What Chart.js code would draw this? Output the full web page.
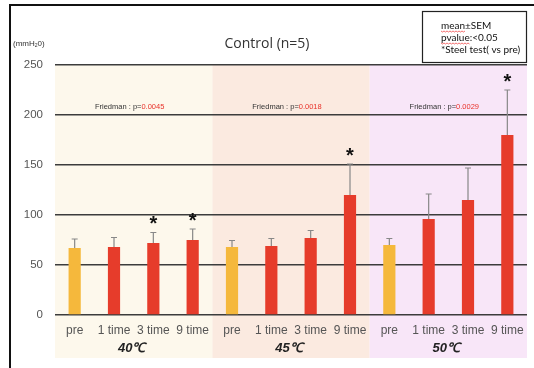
<!DOCTYPE html>
<html>
<head>
<meta charset="utf-8">
<script src="https://cdn.jsdelivr.net/npm/chart.js@4.4.1/dist/chart.umd.min.js"></script>
<style>
  body { margin: 0; background: #fff; }
  #wrap { width: 534px; height: 368px; }
</style>
</head>
<body>
<div id="wrap"><canvas id="myChart" width="534" height="368"></canvas></div>
<script>
// values
const categories = ['pre', '1 time', '3 time', '9 time',
                    'pre', '1 time', '3 time', '9 time',
                    'pre', '1 time', '3 time', '9 time'];
const groups = ['40℃', '45℃', '50℃'];
const groupColors = ['#fdf8ec', '#fbeae0', '#f8e6f8'];
const means = [67, 68, 72, 75, 68, 69, 77, 120, 70, 96, 115, 180];
const sems = [9, 9.5, 10.5, 11, 6.5, 7.5, 7.5, 31, 6.5, 25, 32, 45];
const significant = [false, false, true, true, false, false, false, true, false, false, false, true];
const friedmanP = ['0.0045', '0.0018', '0.0029'];
const legendLines = ['mean±SEM', 'pvalue:<0.05', '*Steel test( vs pre)'];

const barColors = categories.map(c => c === 'pre' ? '#f5b83c' : '#e63c2b');

const decor = {
  id: 'decor',
  beforeDraw(chart) {
    const ctx = chart.ctx;
    const x = chart.scales.x;
    const area = chart.chartArea;
    ctx.save();
    ctx.fillStyle = '#fff';
    ctx.fillRect(0, 0, chart.width, chart.height);
    // group backgrounds
    const half = (x.getPixelForValue(1) - x.getPixelForValue(0)) / 2;
    groups.forEach((g, i) => {
      const x0 = x.getPixelForValue(i * 4) - half;
      const x1 = x.getPixelForValue(i * 4 + 3) + half;
      ctx.fillStyle = groupColors[i];
      ctx.fillRect(x0, area.top, x1 - x0, 358 - area.top);
    });
    // frame
    ctx.strokeStyle = '#111';
    ctx.lineWidth = 2;
    ctx.beginPath();
    ctx.moveTo(10, 368);
    ctx.lineTo(10, 5);
    ctx.lineTo(534, 5);
    ctx.stroke();
    ctx.restore();
  },
  afterDatasetsDraw(chart) {
    const ctx = chart.ctx;
    const x = chart.scales.x;
    const y = chart.scales.y;
    ctx.save();
    // error bars (upper only)
    ctx.strokeStyle = '#888';
    ctx.lineWidth = 1.2;
    means.forEach((m, i) => {
      const px = x.getPixelForValue(i);
      const top = y.getPixelForValue(m + sems[i]);
      ctx.beginPath();
      ctx.moveTo(px, y.getPixelForValue(m));
      ctx.lineTo(px, top);
      ctx.moveTo(px - 3, top);
      ctx.lineTo(px + 3, top);
      ctx.stroke();
      if (significant[i]) {
        ctx.fillStyle = '#111';
        ctx.font = 'bold 20px "Liberation Sans"';
        ctx.textAlign = 'center';
        ctx.textBaseline = 'middle';
        ctx.fillText('*', px, top - 8);
      }
    });
    ctx.restore();
  },
  afterDraw(chart) {
    const ctx = chart.ctx;
    const x = chart.scales.x;
    const half = (x.getPixelForValue(1) - x.getPixelForValue(0)) / 2;
    ctx.save();
    // title and unit
    ctx.fillStyle = '#333';
    ctx.textAlign = 'center';
    ctx.textBaseline = 'middle';
    ctx.font = '14px "Open Sans"';
    ctx.fillText('Control (n=5)', 267, 44);
    ctx.textAlign = 'left';
    ctx.font = '8px "Liberation Sans"';
    ctx.fillText('(mmH', 13, 44);
    let w = ctx.measureText('(mmH').width;
    ctx.font = '5px "Liberation Sans"';
    ctx.fillText('2', 13 + w, 46);
    let w2 = ctx.measureText('2').width;
    ctx.font = '8px "Liberation Sans"';
    ctx.fillText('0)', 13 + w + w2, 44);

    // legend box
    ctx.strokeStyle = '#222';
    ctx.lineWidth = 1.2;
    ctx.strokeRect(422.5, 11.5, 104, 51);
    ctx.fillStyle = '#111';
    ctx.font = '10px Lato';
    legendLines.forEach((t, i) => {
      ctx.fillText(t, 441, 26 + i * 12);
    });
    // spell-check squiggles
    ctx.strokeStyle = '#e33';
    ctx.lineWidth = 0.7;
    [[441, 31, ctx.measureText('mean').width], [441, 43, ctx.measureText('pvalue').width]].forEach(s => {
      ctx.beginPath();
      for (let k = 0; k <= s[2]; k += 1.5) {
        const yy = s[1] + ((k / 1.5) % 2 ? 1 : 0);
        if (k === 0) ctx.moveTo(s[0] + k, yy); else ctx.lineTo(s[0] + k, yy);
      }
      ctx.stroke();
    });

    // Friedman p values and group labels
    groups.forEach((g, i) => {
      const x0 = x.getPixelForValue(i * 4) - half;
      const x1 = x.getPixelForValue(i * 4 + 3) + half;
      const cx = (x0 + x1) / 2 - 4;
      ctx.font = '7.5px "Liberation Sans"';
      const a = 'Friedman : p=';
      const wa = ctx.measureText(a).width;
      const wb = ctx.measureText(friedmanP[i]).width;
      const sx = cx - (wa + wb) / 2;
      ctx.textAlign = 'left';
      ctx.fillStyle = '#333';
      ctx.fillText(a, sx, 107);
      ctx.fillStyle = '#e8322a';
      ctx.fillText(friedmanP[i], sx + wa, 107);

      ctx.textAlign = 'center';
      ctx.fillStyle = '#222';
      ctx.font = 'italic bold 13px "Liberation Sans"';
      ctx.fillText(g, cx + 2, 348);
    });
    ctx.restore();
  }
};

const ctx = document.getElementById('myChart');
new Chart(ctx, {
  type: 'bar',
  data: {
    labels: categories,
    datasets: [{
      data: means,
      backgroundColor: barColors,
      borderWidth: 0,
      barPercentage: 0.31,
      categoryPercentage: 1
    }]
  },
  options: {
    responsive: false,
    animation: false,
    layout: { padding: { left: 10, right: 7, top: 65, bottom: 0 } },
    plugins: {
      legend: { display: false },
      tooltip: { enabled: false }
    },
    scales: {
      x: {
        grid: { display: false },
        border: { display: false },
        ticks: {
          color: '#555',
          padding: 0,
          maxRotation: 0,
          autoSkip: false,
          font: { family: 'Liberation Sans', size: 12 }
        },
        afterFit(scale) { scale.height = 53; }
      },
      y: {
        min: 0,
        max: 250,
        grid: { color: '#3c3c3c', lineWidth: 1.5, drawTicks: false },
        border: { display: false },
        ticks: {
          stepSize: 50,
          color: '#555',
          padding: 12,
          font: { family: 'Liberation Sans', size: 11.5 }
        },
        afterFit(scale) { scale.width = 45; }
      }
    }
  },
  plugins: [decor]
});
</script>
</body>
</html>
